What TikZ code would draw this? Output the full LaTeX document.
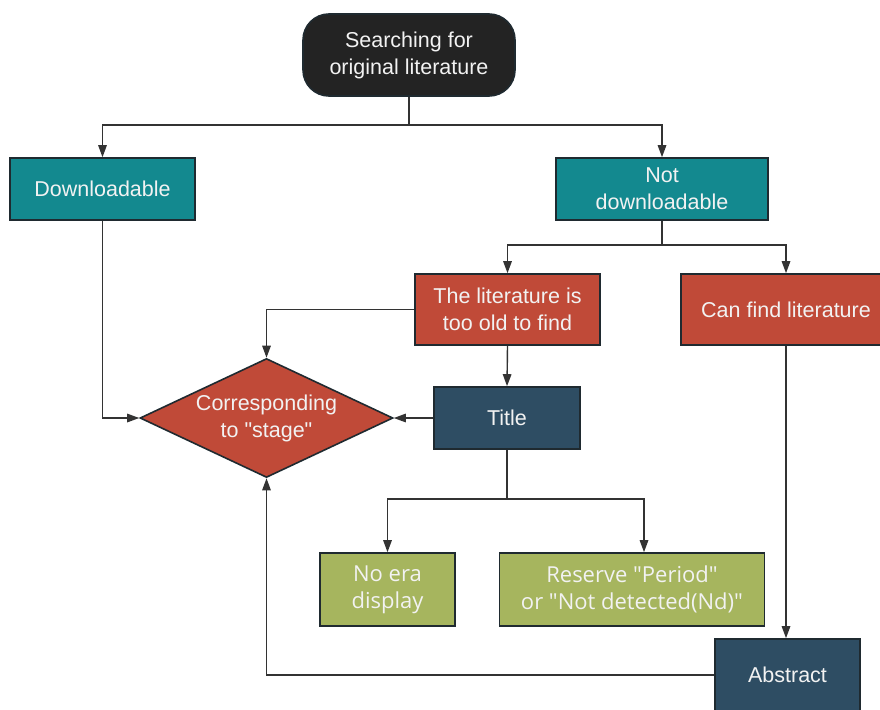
\documentclass[tikz,border=0pt]{standalone}
\usepackage{fontspec}
\setmainfont{Liberation Sans}[Ligatures=TeXOff]
\newfontfamily\greenfont{Open Sans}[Ligatures=TeXOff]
\usetikzlibrary{arrows.meta,shapes.geometric}
\definecolor{cteal}{HTML}{13898F}
\definecolor{cred}{HTML}{C04A38}
\definecolor{cnavy}{HTML}{2E4D63}
\definecolor{cgreen}{HTML}{A6B55E}
\definecolor{cblack}{HTML}{232323}
\definecolor{cborder}{HTML}{1F2A30}
\definecolor{cline}{HTML}{333333}
\definecolor{ctext}{HTML}{F2F2F2}
\tikzset{
  box/.style={draw=cborder, line width=1.6pt, text=ctext, align=center,
    inner sep=0pt, font=\fontsize{21.5}{27}\selectfont},
  tealbox/.style={box, fill=cteal},
  redbox/.style={box, fill=cred},
  navybox/.style={box, fill=cnavy},
  greenbox/.style={box, fill=cgreen, font=\greenfont\fontsize{22}{27}\selectfont},
  arr/.style={draw=cline, line width=1.4pt, -{Triangle[length=12pt,width=8.5pt]}},
  ln/.style={draw=cline, line width=1.4pt}
}
\begin{document}
\begin{tikzpicture}[x=1pt,y=-1pt]
\useasboundingbox (0,0) rectangle (880,709);
\clip (0,0) rectangle (880,709);
\fill[white] (0,0) rectangle (880,709);

\node[box, fill=cblack, rounded corners=26pt, minimum width=212pt, minimum height=82pt] (start) at (409,55) {Searching for\\original literature};
\node[tealbox, minimum width=185pt, minimum height=62pt] (dl) at (102.5,189) {Downloadable};
\node[tealbox, minimum width=212pt, minimum height=62pt] (ndl) at (662,189) {Not\\downloadable};
\node[redbox, minimum width=185pt, minimum height=71pt] (old) at (507.5,309.5) {The literature is\\too old to find};
\node[redbox, minimum width=210pt, minimum height=71pt] (can) at (786,309.5) {Can find literature};
\node[diamond, aspect=2.13, draw=cborder, line width=1.6pt, fill=cred, text=ctext, align=center, inner sep=0pt,
  minimum width=253pt, minimum height=119pt, font=\fontsize{21.5}{27}\selectfont] (dia) at (266.5,418) {Corresponding\\to "stage"};
\node[navybox, minimum width=146pt, minimum height=62pt] (title) at (507,418) {Title};
\node[greenbox, minimum width=135pt, minimum height=73pt] (noera) at (387.5,589.5) {No era\\display};
\node[greenbox, minimum width=265pt, minimum height=73pt] (res) at (632,589.5) {Reserve "Period"\\or "Not detected(Nd)"};
\node[navybox, minimum width=145pt, minimum height=72pt] (abs) at (787.5,675) {Abstract};

\coordinate (j1) at (409,125);
\coordinate (j2) at (662,245);
\coordinate (j3) at (507,499);

\draw[ln] (start.south) -- (j1);
\draw[arr] (j1) -| (dl.north);
\draw[arr] (j1) -| (ndl.north);
\draw[ln] (ndl.south) -- (j2);
\draw[arr] (j2) -| (old.north);
\draw[arr] (j2) -| (can.north);
\draw[arr] (old.west) -| (dia.north);
\draw[arr] (old.south) -- (title.north);
\draw[arr] (title.west) -- (dia.east);
\draw[arr] (dl.south) |- (dia.west);
\draw[ln] (title.south) -- (j3);
\draw[arr] (j3) -| (noera.north);
\draw[arr] (j3) -| ([xshift=12pt]res.north);
\draw[arr] (can.south) -- (can.south |- abs.north);
\draw[arr] (abs.west) -| (dia.south);
\end{tikzpicture}
\end{document}
